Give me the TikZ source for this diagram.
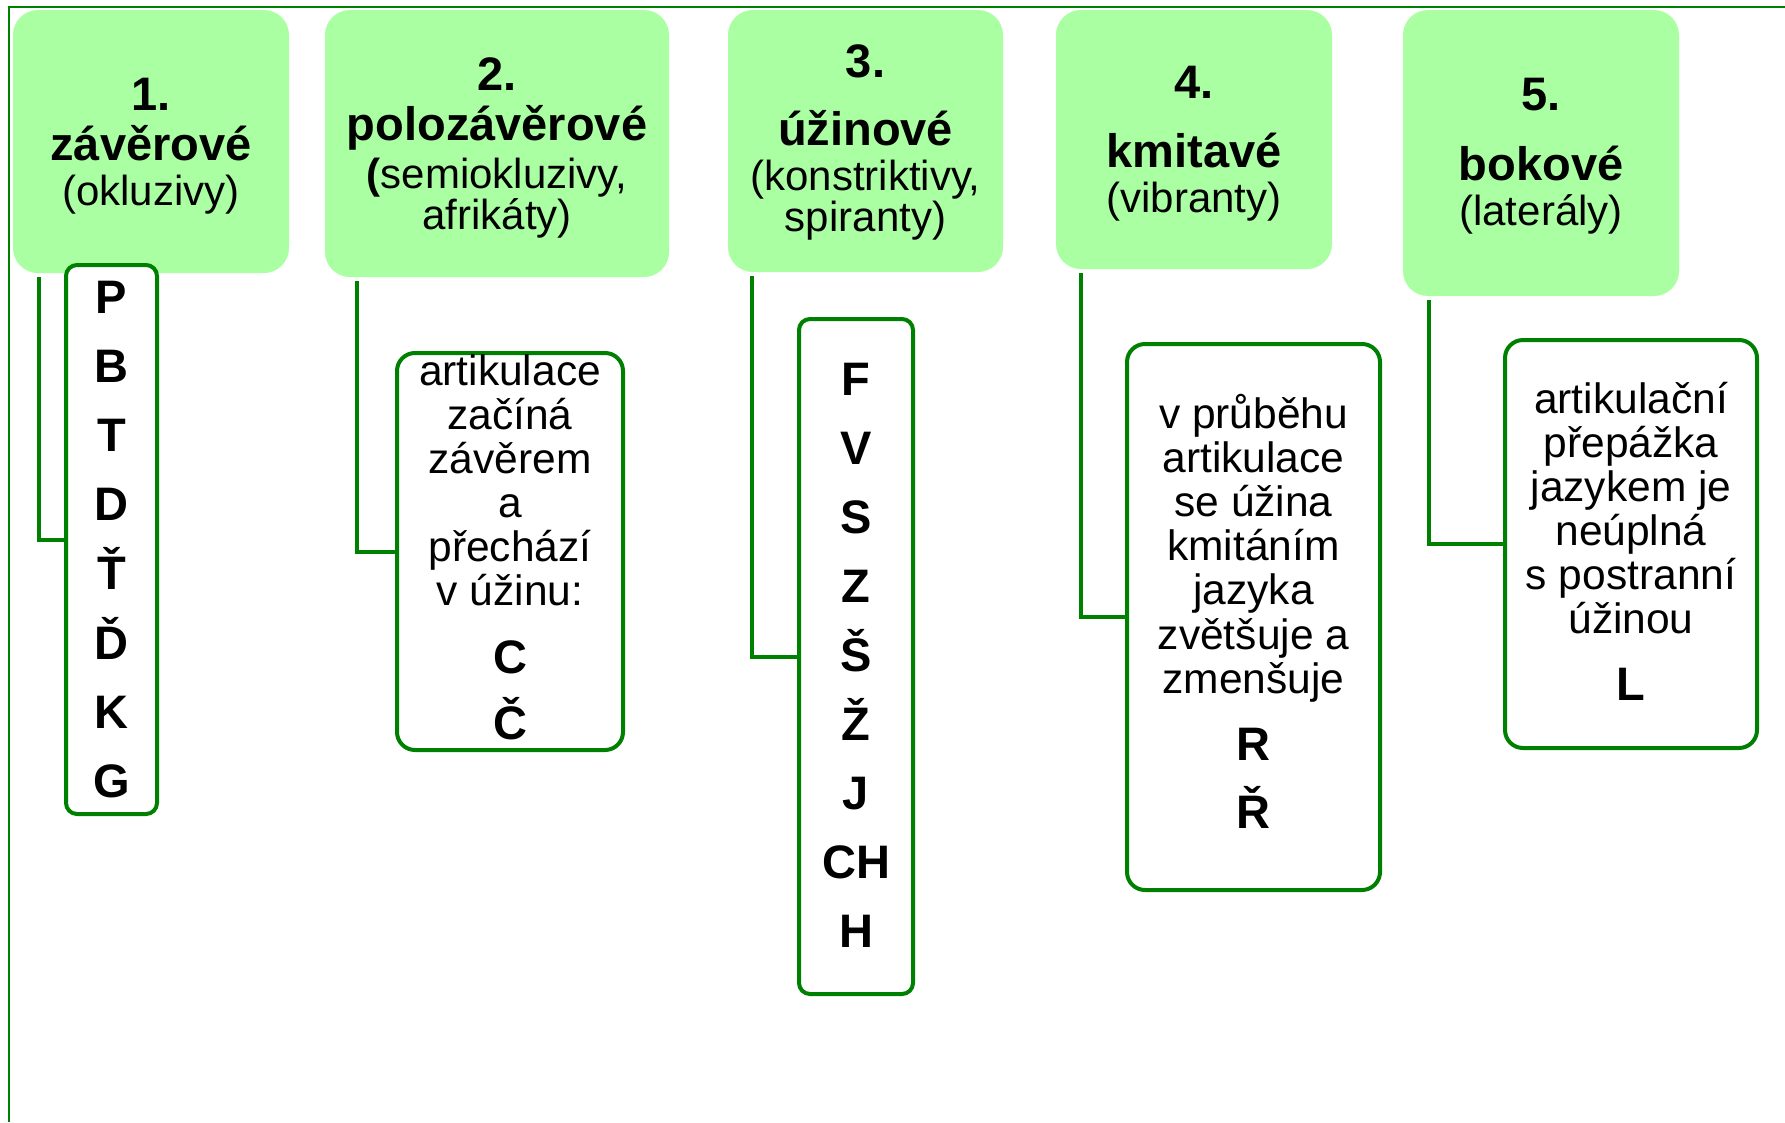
\documentclass[tikz,border=0pt]{standalone}
\usepackage{fontspec}
\setmainfont{Liberation Sans}
\definecolor{hfill}{RGB}{169,255,161}
\definecolor{dgreen}{RGB}{0,128,0}
\begin{document}
\begin{tikzpicture}[x=1pt,y=-1pt,
  hbox/.style={draw=none,fill=hfill,rounded corners=25pt,inner sep=0pt},
  cbox/.style={draw=dgreen,line width=4pt,fill=white,rounded corners=18pt,inner sep=0pt},
  nbox/.style={cbox,rounded corners=11pt},
  conn/.style={draw=dgreen,line width=4pt},
  frameline/.style={draw=dgreen,line width=2pt},
  ttl/.style={anchor=base,inner sep=0pt,font=\fontsize{47}{50}\selectfont\bfseries},
  sub/.style={anchor=base,inner sep=0pt,font=\fontsize{42}{44}\selectfont},
  txt/.style={anchor=base,inner sep=0pt,font=\fontsize{42.5}{44}\selectfont},
  letter/.style={anchor=base,inner sep=0pt,font=\fontsize{47}{50}\selectfont\bfseries}
]
\useasboundingbox (0,0) rectangle (1785,1122);
\fill[white] (0,0) rectangle (1785,1122);
\draw[frameline] (9,1122) -- (9,7) -- (1785,7);

% header boxes
\node[hbox,minimum width=276pt,minimum height=263pt] (h1) at (151,141.5) {};
\node[hbox,minimum width=344pt,minimum height=267pt] (h2) at (497,143.5) {};
\node[hbox,minimum width=275pt,minimum height=262pt] (h3) at (865.5,141) {};
\node[hbox,minimum width=276pt,minimum height=259pt] (h4) at (1194,139.5) {};
\node[hbox,minimum width=276pt,minimum height=286pt] (h5) at (1541,153) {};

% header texts
\node[ttl] (h1a) at (151,110) {1.};
\node[ttl] (h1b) at (151,160) {závěrové};
\node[sub] (h1c) at (151,205) {(okluzivy)};

\node[ttl] (h2a) at (497,90) {2.};
\node[ttl] (h2b) at (497,140) {polozávěrové};
\node[sub] (h2c) at (497,188) {\textbf{(}semiokluzivy,};
\node[sub] (h2d) at (497,229) {afrikáty)};

\node[ttl] (h3a) at (865.5,77) {3.};
\node[ttl] (h3b) at (865.5,145) {úžinové};
\node[sub] (h3c) at (865.5,190) {(konstriktivy,};
\node[sub] (h3d) at (865.5,231) {spiranty)};

\node[ttl] (h4a) at (1194,98) {4.};
\node[ttl] (h4b) at (1194,167) {kmitavé};
\node[sub] (h4c) at (1194,212) {(vibranty)};

\node[ttl] (h5a) at (1541,110) {5.};
\node[ttl] (h5b) at (1541,180) {bokové};
\node[sub] (h5c) at (1541,225) {(laterály)};

% child boxes
\node[nbox,minimum width=91pt,minimum height=549pt] (c1) at (111.5,539.5) {};
\node[cbox,minimum width=226pt,minimum height=397pt] (c2) at (510,551.5) {};
\node[nbox,minimum width=114pt,minimum height=675pt] (c3) at (856,656.5) {};
\node[cbox,minimum width=253pt,minimum height=546pt] (c4) at (1253.5,617) {};
\node[cbox,minimum width=252pt,minimum height=408pt] (c5) at (1631,544) {};

% connectors
\draw[conn] ([xshift=26pt,yshift=-4pt]h1.south west) |- (c1.west);
\draw[conn] ([xshift=32pt,yshift=-4pt]h2.south west) |- (c2.west);
\draw[conn] ([xshift=24pt,yshift=-4pt]h3.south west) |- (c3.west);
\draw[conn] ([xshift=25pt,yshift=-4pt]h4.south west) |- (c4.west);
\draw[conn] ([xshift=26pt,yshift=-4pt]h5.south west) |- (c5.west);

% child 1 letters
\foreach \t [count=\i from 0] in {P,B,T,D,Ť,Ď,K,G}
  \node[letter] (c1l\i) at (111.5,313+69.2*\i) {\t};

% child 2 text
\foreach \t [count=\i from 0] in {artikulace,začíná,závěrem,a,přechází,v úžinu:}
  \node[txt] (c2t\i) at (510,385+44*\i) {\t};
\node[letter] (c2l0) at (510,673) {C};
\node[letter] (c2l1) at (510,739) {Č};

% child 3 letters
\foreach \t [count=\i from 0] in {F,V,S,Z,Š,Ž,J,CH,H}
  \node[letter] (c3l\i) at (856,395+69.1*\i) {\t};

% child 4 text
\foreach \t [count=\i from 0] in {v průběhu,artikulace,se úžina,kmitáním,jazyka,zvětšuje a,zmenšuje}
  \node[txt] (c4t\i) at (1253.5,428+44.2*\i) {\t};
\node[letter] (c4l0) at (1253.5,760) {R};
\node[letter] (c4l1) at (1253.5,828) {Ř};

% child 5 text
\foreach \t [count=\i from 0] in {artikulační,přepážka,jazykem je,neúplná,s postranní,úžinou}
  \node[txt] (c5t\i) at (1631,413+44*\i) {\t};
\node[letter] (c5l0) at (1631,700) {L};
\end{tikzpicture}
\end{document}
